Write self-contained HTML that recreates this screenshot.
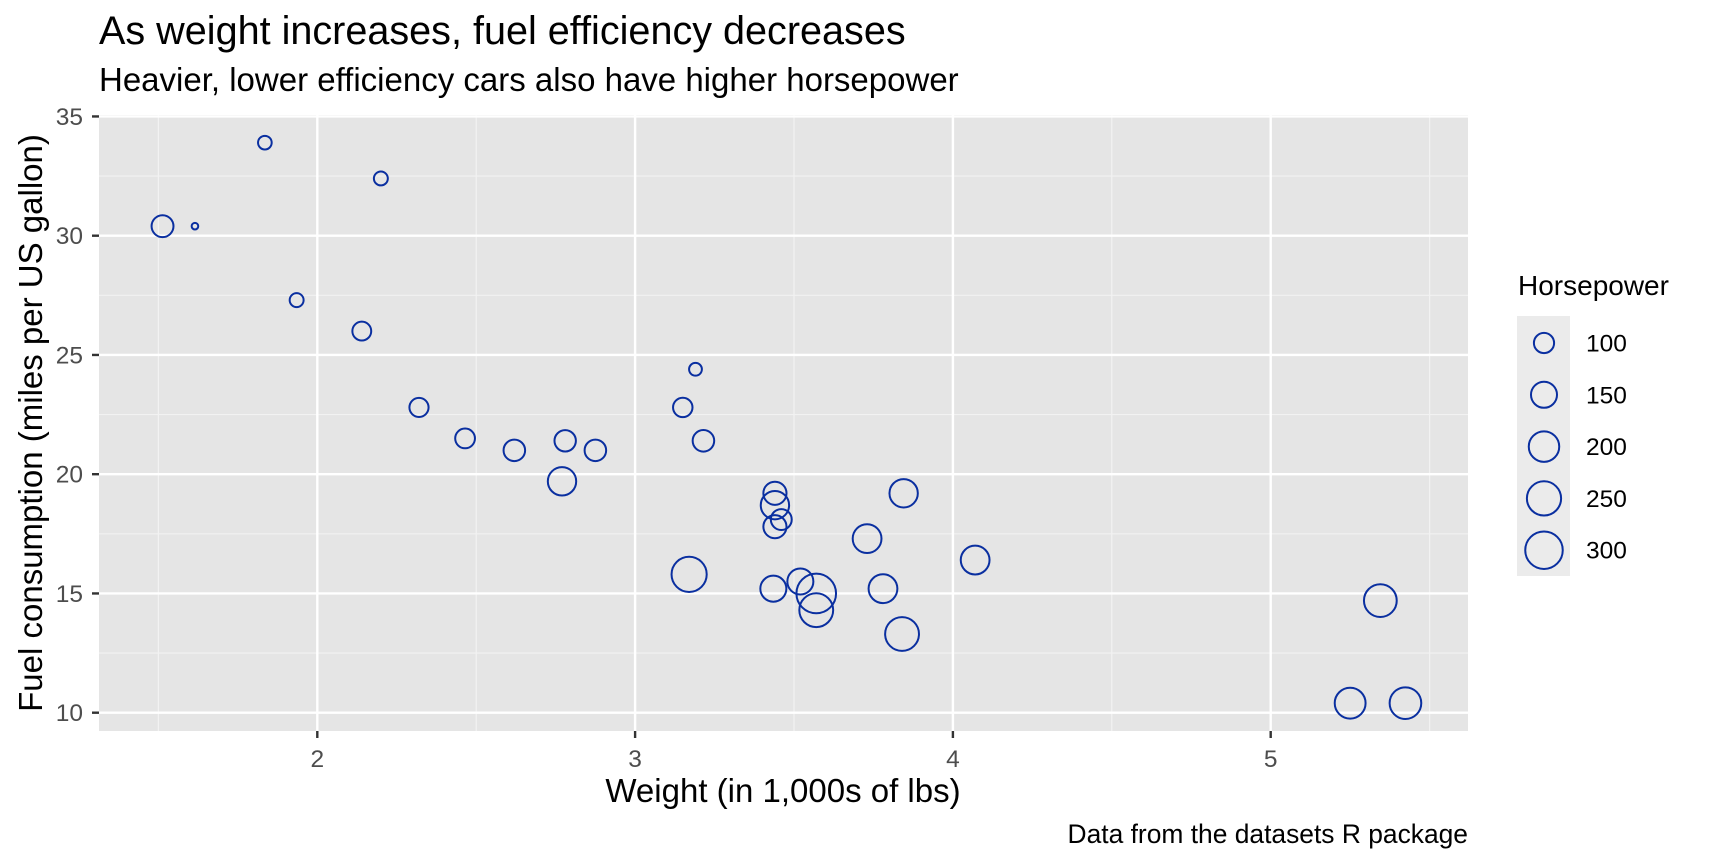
<!DOCTYPE html>
<html><head><meta charset="utf-8"><style>
body{margin:0;background:#fff}
svg{display:block;font-family:"Liberation Sans",sans-serif}
</style></head><body>
<svg id="chart" width="1728" height="864" viewBox="0 0 1728 864">
<text x="99" y="44" font-size="39.6" fill="#000">As weight increases, fuel efficiency decreases</text>
<text x="99" y="91" font-size="33" fill="#000">Heavier, lower efficiency cars also have higher horsepower</text>
<rect x="99" y="115" width="1369" height="616" fill="#e5e5e5"/>
<g id="grid"></g>
<g id="axes"></g>
<g id="points"></g>
<text x="783" y="802" font-size="33" text-anchor="middle" fill="#000">Weight (in 1,000s of lbs)</text>
<text transform="translate(42,423) rotate(-90)" font-size="33" text-anchor="middle" fill="#000">Fuel consumption (miles per US gallon)</text>
<text x="1468" y="843" font-size="26.4" text-anchor="end" fill="#000">Data from the datasets R package</text>
<g id="legend">
<text x="1518" y="295" font-size="28" fill="#000">Horsepower</text>
<rect x="1517" y="316" width="53" height="260" fill="#ebebeb"/>
</g>
</svg>
<script>
const wt=[2.620,2.875,2.320,3.215,3.440,3.460,3.570,3.190,3.150,3.440,3.440,4.070,3.730,3.780,5.250,5.424,5.345,2.200,1.615,1.835,2.465,3.520,3.435,3.840,3.845,1.935,2.140,1.513,3.170,2.770,3.570,2.780];
const mpg=[21.0,21.0,22.8,21.4,18.7,18.1,14.3,24.4,22.8,19.2,17.8,16.4,17.3,15.2,10.4,10.4,14.7,32.4,30.4,33.9,21.5,15.5,15.2,13.3,19.2,27.3,26.0,30.4,15.8,19.7,15.0,21.4];
const hp=[110,110,93,110,175,105,245,62,95,123,123,180,180,180,205,215,230,66,52,65,97,150,150,245,175,66,91,113,264,175,335,109];
const xTicks=[2,3,4,5];
const yTicks=[10,15,20,25,30,35];
const legendHp=[100,150,200,250,300];
const NS="http://www.w3.org/2000/svg";
const X=v=>317.3+(v-2)*317.8;
const Y=v=>712.7-(v-10)*23.85;
const hpMin=Math.min(...hp),hpMax=Math.max(...hp);
const R=h=>3.3*(1+5*Math.sqrt(Math.max(0,(h-hpMin)/(hpMax-hpMin))));
function mk(tag,attrs,parent){const e=document.createElementNS(NS,tag);for(const k in attrs)e.setAttribute(k,attrs[k]);parent.appendChild(e);return e;}
const grid=document.getElementById('grid'),axes=document.getElementById('axes'),pts=document.getElementById('points'),leg=document.getElementById('legend');
for(let i=0;i<xTicks.length+1;i++){const v=xTicks[0]-0.5+i;const l=mk('line',{x1:X(v),x2:X(v),y1:115,y2:731,stroke:'#f2f2f2','stroke-width':1.2},grid);

}
for(let i=0;i<yTicks.length-1;i++){const v=yTicks[i]+2.5;const l=mk('line',{x1:99,x2:1468,y1:Y(v),y2:Y(v),stroke:'#f2f2f2','stroke-width':1.2},grid);

}
xTicks.forEach(v=>{const l=mk('line',{x1:X(v),x2:X(v),y1:115,y2:731,stroke:'#fff','stroke-width':2.4},grid);


const t=mk('line',{x1:X(v),x2:X(v),y1:731,y2:738,stroke:'#333','stroke-width':2.4},axes);


const tx=mk('text',{x:X(v),y:767,'font-size':24.5,'text-anchor':'middle',fill:'#4d4d4d'},axes);tx.textContent=v;

});
yTicks.forEach(v=>{const l=mk('line',{x1:99,x2:1468,y1:Y(v),y2:Y(v),stroke:'#fff','stroke-width':2.4},grid);


const t=mk('line',{x1:92,x2:99,y1:Y(v),y2:Y(v),stroke:'#333','stroke-width':2.4},axes);


const tx=mk('text',{x:83,y:Y(v)+8.5,'font-size':24.5,'text-anchor':'end',fill:'#4d4d4d'},axes);tx.textContent=v;

});
wt.forEach((w,i)=>{const c=mk('circle',{cx:X(w),cy:Y(mpg[i]),r:R(hp[i]),fill:'none',stroke:'#0a2fa0','stroke-width':2},pts);

});
legendHp.forEach((h,i)=>{const cy=343+i*51.8;const c=mk('circle',{cx:1544,cy:cy,r:R(h),fill:'none',stroke:'#0a2fa0','stroke-width':2},leg);


const t=mk('text',{x:1586,y:cy+8.5,'font-size':24.5,fill:'#000'},leg);t.textContent=h;

});
</script>
</body></html>
